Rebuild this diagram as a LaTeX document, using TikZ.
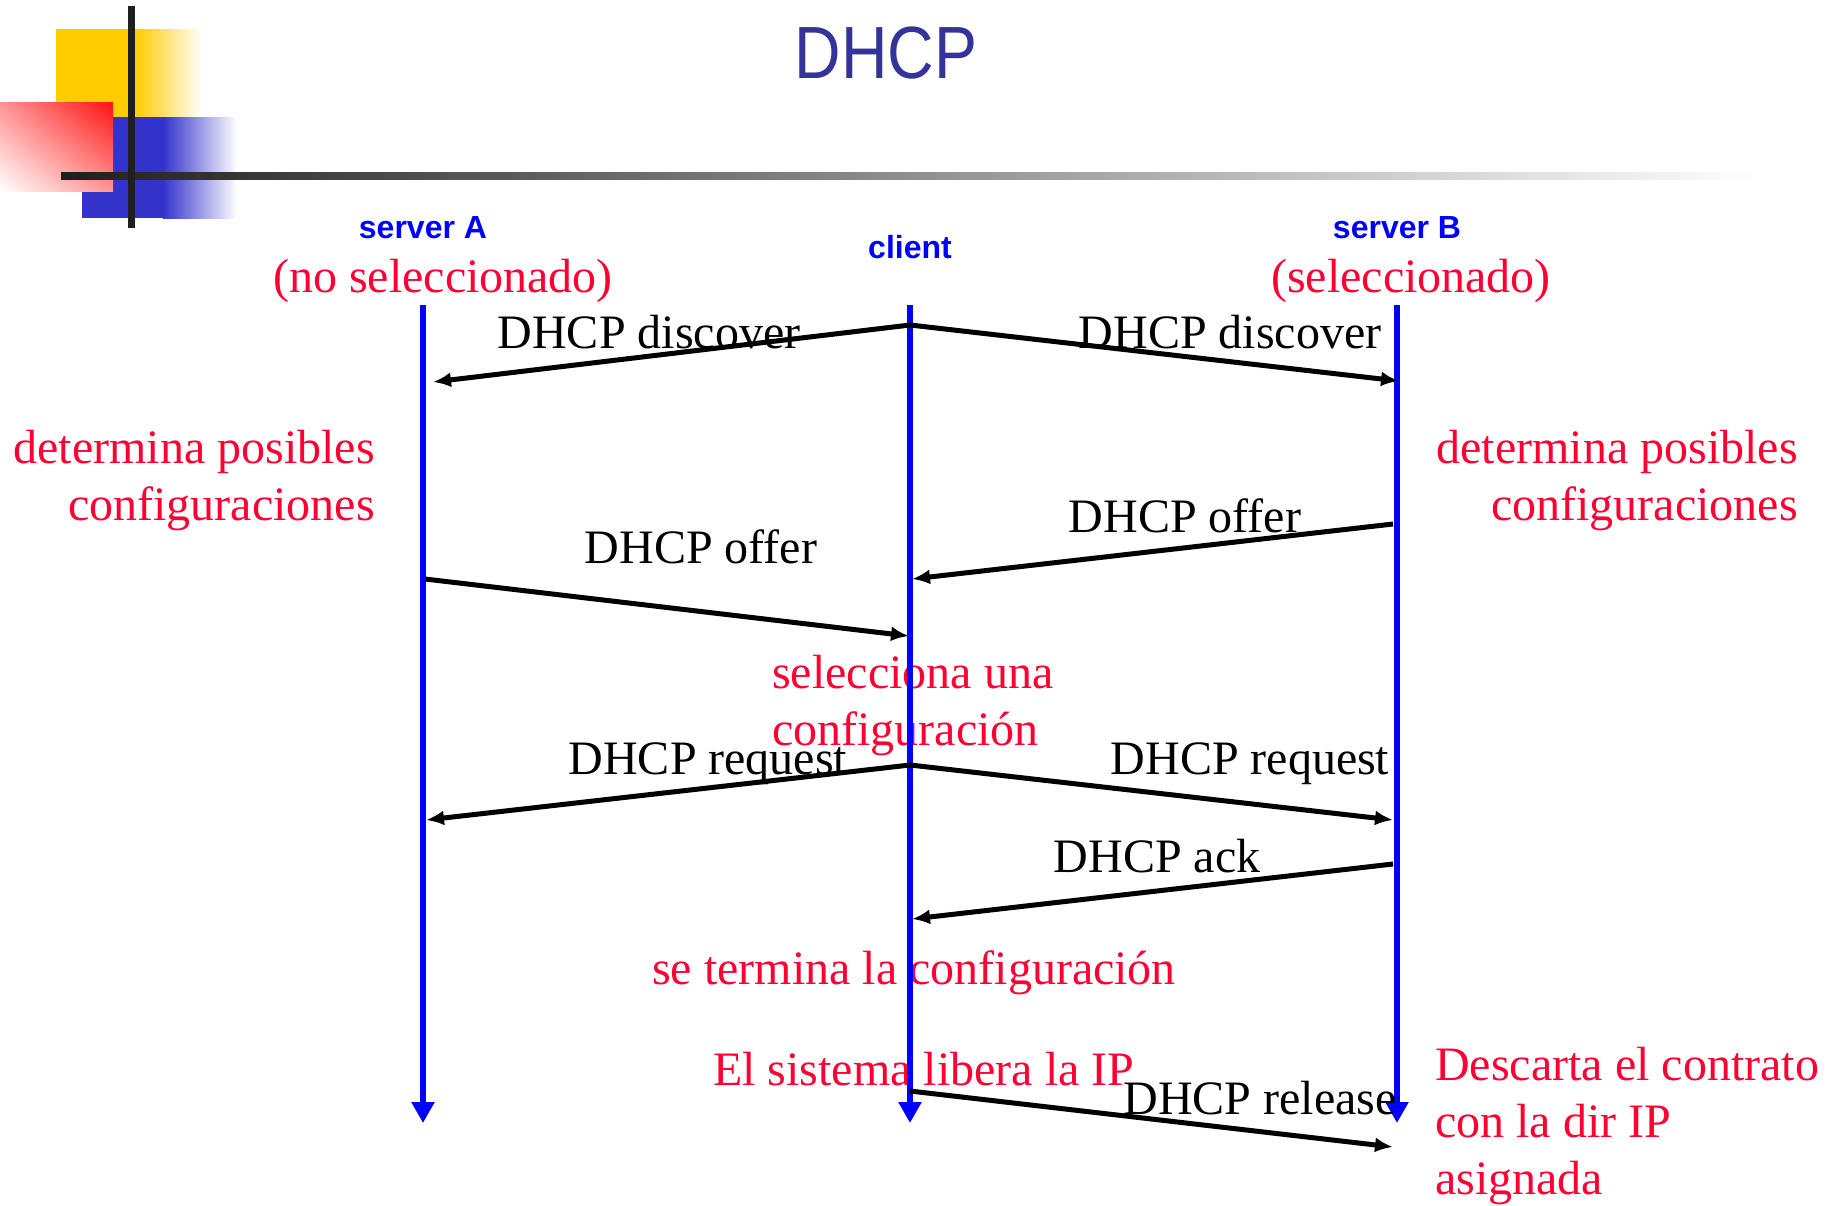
\documentclass[tikz,border=0pt]{standalone}
\usepackage{fontspec}
\setmainfont{Liberation Serif}
\newfontfamily\headfont{Liberation Sans}
\newfontfamily\titlefont[FakeStretch=0.87]{Liberation Sans}
\usetikzlibrary{arrows.meta}
\usetikzlibrary{shadings}
\definecolor{notered}{RGB}{255,0,51}
\definecolor{titleblue}{RGB}{51,51,153}
\definecolor{deckyellow}{RGB}{255,204,0}
\definecolor{deckblue}{RGB}{51,51,204}
\definecolor{deckred}{RGB}{255,17,17}
\definecolor{barblack}{RGB}{31,31,31}

\begin{document}
\begin{tikzpicture}[x=1pt,y=-1pt]

		\tikzset{lifeline/.style = {draw=blue, line width=5.5pt, -{Triangle[length=21pt,width=22pt]}}}
		\tikzset{msg/.style = {draw=black, line width=5pt, -{Latex[length=18pt,width=15pt]}}}
		\tikzset{host/.style = {font=\headfont\bfseries\fontsize{32}{38}\selectfont, text=blue, inner sep=0pt, anchor=base}}
		\tikzset{note/.style = {font=\fontsize{48}{57}\selectfont, text=notered, inner sep=0pt}}
		\tikzset{msglabel/.style = {font=\fontsize{48}{57}\selectfont, inner sep=0pt, anchor=base}}

		\useasboundingbox (0,0) rectangle (1839,1205);

		% logo
		\fill[deckyellow] (56,29) rectangle (135,117);
		\shade[left color=deckyellow, right color=white] (135,29) rectangle (203,117);
		\fill[deckblue] (82,117) rectangle (163,218);
		\shade[left color=deckblue, right color=white] (163,117) rectangle (237,218);
		\shade[upper left=deckred!45, upper right=deckred, lower left=white, lower right=deckred!45] (0,102) rectangle (113,191);
		\shade[left color=barblack, right color=white] (61,172) rectangle (1760,179);
		\fill[barblack] (128,6) rectangle (135,228);

		\node[font=\titlefont\fontsize{74}{80}\selectfont, text=titleblue, inner sep=0pt, anchor=base] (title) at (886,78) {DHCP};

		% hosts
		\node[host] (srvA) at (423,238) {server A};
		\node[host] (cli) at (910,258) {client};
		\node[host] (srvB) at (1397,238) {server B};
		\node[note, anchor=base] (selA) at (443,292) {(no seleccionado)};
		\node[note, anchor=base] (selB) at (1411,292) {(seleccionado)};

		% notes (base = last line)
		\node[note, align=right, anchor=base east] (detA) at (375,520) {determina posibles\\configuraciones};
		\node[note, align=right, anchor=base east] (detB) at (1798,520) {determina posibles\\configuraciones};
		\node[note, align=left, anchor=base west] (pick) at (772,745) {selecciona una\\configuración};
		\node[note, anchor=base] (done) at (914,984) {se termina la configuración};
		\node[note, anchor=base west] (free) at (713,1085) {El sistema libera la IP};
		\node[note, align=left, anchor=base west] (drop) at (1435,1194) {Descarta el contrato\\con la dir IP\\asignada};

		% lifelines
		\coordinate (A0) at (423,305); \coordinate (A9) at (423,1123);
		\coordinate (C0) at (910,305); \coordinate (C9) at (910,1123);
		\coordinate (B0) at (1397,305); \coordinate (B9) at (1397,1123);
		\draw[lifeline] (A0) -- (A9);
		\draw[lifeline] (C0) -- (C9);
		\draw[lifeline] (B0) -- (B9);

		% message ends
		\coordinate (c1) at (910,325); \coordinate (a1) at (433,382); \coordinate (b1) at (1399,381);
		\coordinate (b2) at (1393,524); \coordinate (c2) at (912,579);
		\coordinate (a3) at (425,579); \coordinate (c3) at (909,636);
		\coordinate (c4) at (910,765); \coordinate (a4) at (426,820); \coordinate (b4) at (1393,820);
		\coordinate (b5) at (1393,864); \coordinate (c5) at (912,919);
		\coordinate (c6) at (910,1091); \coordinate (b6) at (1393,1147);

		%messages
		\draw[msg] (c1) -- (a1);
		\draw[msg] (c1) -- (b1);
		\draw[msg] (b2) -- (c2);
		\draw[msg] (a3) -- (c3);
		\draw[msg] (c4) -- (a4);
		\draw[msg] (c4) -- (b4);
		\draw[msg] (b5) -- (c5);
		\draw[msg] (c6) -- (b6);

		\node[msglabel] (discA) at (649,348) {DHCP discover};
		\node[msglabel] (discB) at (1230,348) {DHCP discover};
		\node[msglabel] (offB) at (1185,532) {DHCP offer};
		\node[msglabel] (offA) at (701,563) {DHCP offer};
		\node[msglabel] (reqA) at (708,774) {DHCP request};
		\node[msglabel] (reqB) at (1250,774) {DHCP request};
		\node[msglabel] (ack) at (1157,872) {DHCP ack};
		\node[msglabel] (rel) at (1260,1114) {DHCP release};

\end{tikzpicture}
\end{document}
